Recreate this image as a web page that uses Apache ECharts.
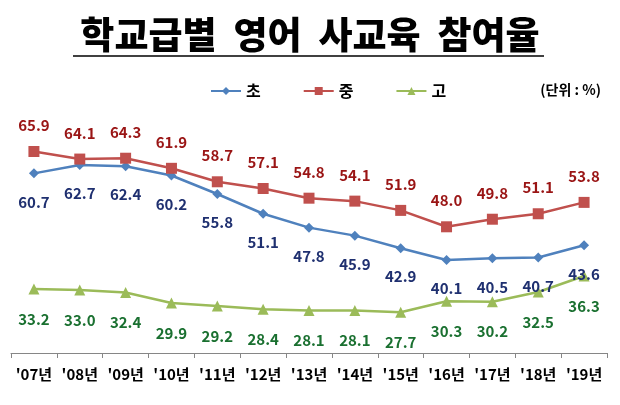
<!DOCTYPE html>
<html>
<head>
<meta charset="utf-8">
<script src="https://cdn.jsdelivr.net/npm/echarts@6/dist/echarts.min.js"></script>
<style>
  html, body { margin: 0; padding: 0; background: #fff; }
  #chart { width: 620px; height: 405px; }
</style>
</head>
<body>
<div id="chart"></div>
<script>
const years = ["'07년", "'08년", "'09년", "'10년", "'11년", "'12년", "'13년", "'14년", "'15년", "'16년", "'17년", "'18년", "'19년"];
const elementary = [60.7, 62.7, 62.4, 60.2, 55.8, 51.1, 47.8, 45.9, 42.9, 40.1, 40.5, 40.7, 43.6];
const middle = [65.9, 64.1, 64.3, 61.9, 58.7, 57.1, 54.8, 54.1, 51.9, 48.0, 49.8, 51.1, 53.8];
const high = [33.2, 33.0, 32.4, 29.9, 29.2, 28.4, 28.1, 28.1, 27.7, 30.3, 30.2, 32.5, 36.3];

const chart = echarts.init(document.getElementById('chart'));
const font = '"Noto Sans CJK KR", "Noto Sans", sans-serif';

function makeSeries(name, data, symbol, size, lineColor, labelColor, pos, dist) {
  return {
    name: name,
    type: 'line',
    data: data,
    symbol: symbol,
    symbolSize: size,
    lineStyle: { color: lineColor, width: 2.5 },
    itemStyle: { color: lineColor },
    label: {
      show: true,
      position: pos,
      distance: dist,
      color: labelColor,
      fontFamily: font,
      fontWeight: 'bold',
      fontSize: 15,
      formatter: p => p.value.toFixed(1)
    }
  };
}

const option = {
  animation: false,
  title: [
    {
      text: '학교급별  영어  사교육  참여율',
      left: 'center',
      top: 11,
      textStyle: { fontFamily: font, fontWeight: 900, fontSize: 37, color: '#000' }
    },
    {
      text: '(단위 : %)',
      right: 14,
      top: 78,
      textStyle: { fontFamily: font, fontWeight: 'bold', fontSize: 14, color: '#000' }
    }
  ],
  graphic: [
    { type: 'line', shape: { x1: 73, y1: 56, x2: 544, y2: 56 }, style: { stroke: '#000', lineWidth: 1.5 } }
  ],
  legend: {
    top: 78,
    left: 205,
    itemWidth: 30,
    itemHeight: 10,
    itemGap: 42,
    textStyle: { fontFamily: font, fontWeight: 'bold', fontSize: 16, color: '#000' },
    data: ['초', '중', '고']
  },
  grid: { left: 11, right: 13, top: 109, bottom: 52 },
  xAxis: {
    type: 'category',
    data: years,
    boundaryGap: true,
    axisLine: { lineStyle: { color: '#868686', width: 1 } },
    axisTick: { show: true, length: 5, inside: false, lineStyle: { color: '#868686' } },
    axisLabel: { interval: 0, margin: 14, color: '#000', fontFamily: font, fontWeight: 'bold', fontSize: 15 }
  },
  yAxis: {
    type: 'value',
    min: 18,
    max: 76,
    show: false,
    splitLine: { show: false }
  },
  series: [
    makeSeries('초', elementary, 'diamond', 10, '#4f81bd', '#1f3070', 'bottom', 16),
    makeSeries('중', middle, 'rect', 11, '#c0504d', '#9a1515', 'top', 13),
    makeSeries('고', high, 'triangle', 11, '#9bbb59', '#1a7030', 'bottom', 17)
  ]
};

chart.setOption(option);
</script>
</body>
</html>
